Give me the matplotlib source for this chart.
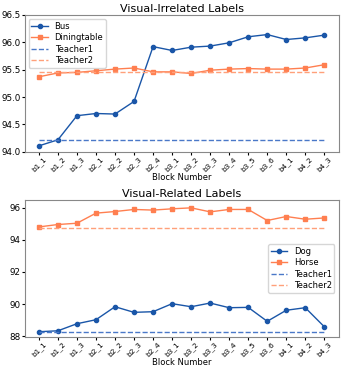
import matplotlib
matplotlib.use('Agg')
import matplotlib.pyplot as plt

# Nomes dos blocos
blocks = ['b1_1', 'b1_2', 'b1_3', 'b2_1', 'b2_2', 'b2_3', 'b2_4', 'b3_1',
          'b3_2', 'b3_3', 'b3_4', 'b3_5', 'b3_6', 'b4_1', 'b4_2', 'b4_3']

# Visual-Irrelated
bus = [94.11, 94.22, 94.66, 94.70, 94.69, 94.92, 95.92, 95.85,
       95.91, 95.93, 95.99, 96.10, 96.14, 96.05, 96.08, 96.13]
diningtable = [95.37, 95.44, 95.45, 95.48, 95.51, 95.53, 95.46, 95.46,
               95.43, 95.49, 95.51, 95.52, 95.51, 95.51, 95.53, 95.59]
teacher1_top = 94.22
teacher2_top = 95.45

# Visual-Related
dog = [88.27, 88.33, 88.77, 89.02, 89.83, 89.48, 89.52, 90.02,
       89.83, 90.06, 89.77, 89.79, 88.92, 89.61, 89.77, 88.58]
horse = [94.81, 94.96, 95.04, 95.67, 95.77, 95.90, 95.86, 95.94,
         96.00, 95.75, 95.90, 95.90, 95.21, 95.46, 95.29, 95.37]
teacher1_bot = 88.27
teacher2_bot = 94.75

c_blue = '#1a56a8'
c_orange = '#ff7f50'
c_t1 = '#4a78c8'
c_t2 = '#ffa07a'

fig, (ax1, ax2) = plt.subplots(2, 1, figsize=(3.42, 3.71), dpi=100)
fig.subplots_adjust(left=0.072, right=0.99, top=0.96, bottom=0.092, hspace=0.35)

x = range(len(blocks))

ax1.plot(x, bus, '-o', color=c_blue, lw=1, ms=3, label='Bus')
ax1.plot(x, diningtable, '-s', color=c_orange, lw=1, ms=3.5, label='Diningtable')
ax1.plot([0, len(blocks) - 1], [teacher1_top] * 2, '--', color=c_t1, lw=1, label='Teacher1')
ax1.plot([0, len(blocks) - 1], [teacher2_top] * 2, '--', color=c_t2, lw=1, label='Teacher2')
ax1.set_ylim(94.0, 96.5)
ax1.set_yticks([94.0, 94.5, 95.0, 95.5, 96.0, 96.5])
ax1.set_title('Visual-Irrelated Labels', fontsize=8, pad=2)
ax1.legend(loc='upper left', fontsize=6, handlelength=2, borderpad=0.3, labelspacing=0.3)

ax2.plot(x, dog, '-o', color=c_blue, lw=1, ms=3, label='Dog')
ax2.plot(x, horse, '-s', color=c_orange, lw=1, ms=3.5, label='Horse')
ax2.plot([0, len(blocks) - 1], [teacher1_bot] * 2, '--', color=c_t1, lw=1, label='Teacher1')
ax2.plot([0, len(blocks) - 1], [teacher2_bot] * 2, '--', color=c_t2, lw=1, label='Teacher2')
ax2.set_ylim(87.95, 96.5)
ax2.set_yticks([88, 90, 92, 94, 96])
ax2.set_title('Visual-Related Labels', fontsize=8, pad=2)
ax2.legend(loc='center right', fontsize=6, handlelength=2, borderpad=0.3, labelspacing=0.3)

for ax in (ax1, ax2):
    ax.set_xticks(list(x))
    ax.set_xticklabels(blocks, rotation=45, fontsize=5.3)
    ax.tick_params(axis='y', labelsize=6.3, length=2, pad=1)
    ax.tick_params(axis='x', length=2, pad=0.5)
    ax.set_xlabel('Block Number', fontsize=6, labelpad=0)
    for s in ax.spines.values():
        s.set_color('#888888')
        s.set_linewidth(0.8)

plt.savefig('out.png', dpi=100)
